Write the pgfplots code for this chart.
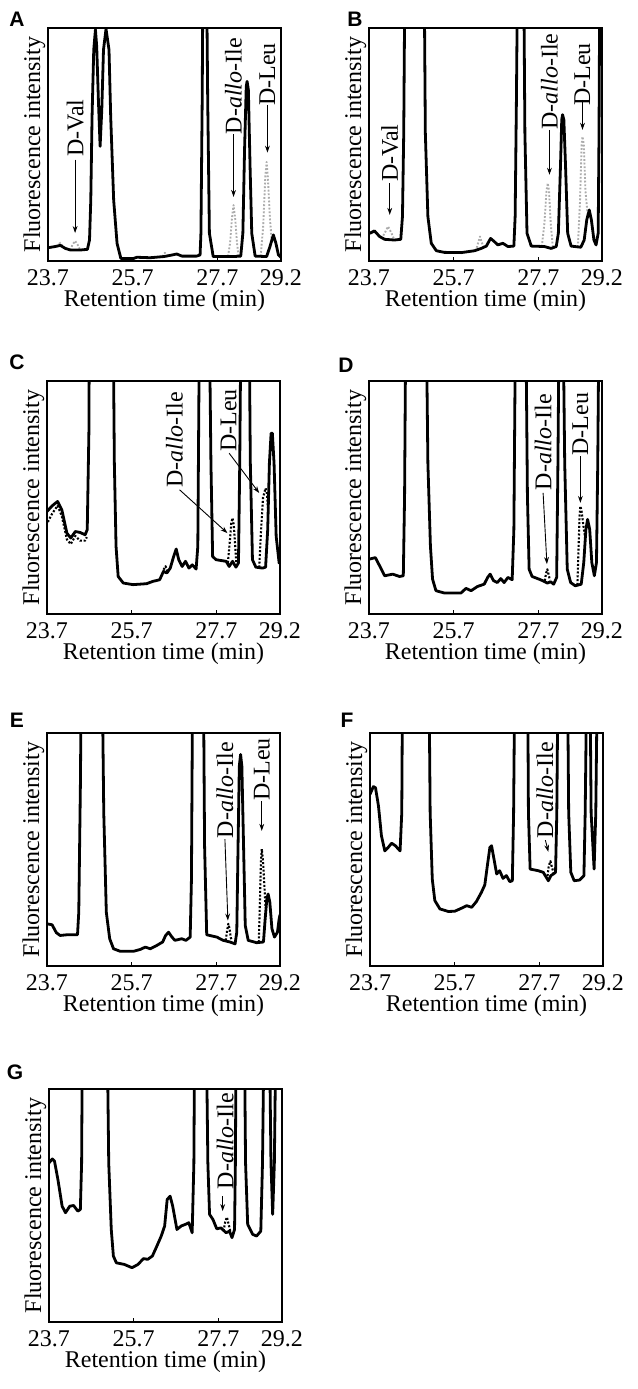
\documentclass[border=0pt]{standalone}
\usepackage{pgfplots}
\pgfplotsset{compat=1.18}
\usepackage{fontspec}
\setmainfont{Liberation Serif}
\newfontfamily\panelfont{Liberation Sans}
\usetikzlibrary{arrows.meta}
\newcommand{\fs}{\fontsize{12}{14}\selectfont}
\pgfplotsset{chrom/.style={
  scale only axis, width=116.5pt, height=116.5pt, anchor=north west,
  xmin=23.7, xmax=29.2, ymin=0, ymax=100,
  xtick={23.7,25.7,27.7,29.2}, xticklabels={23.7,25.7,27.7,29.2},
  ytick=\empty, xtick pos=left, tick align=inside, major tick length=2pt,
  axis line style={line width=0.85pt}, every tick/.style={black, line width=0.6pt},
  xlabel={Retention time (min)}, ylabel={Fluorescence intensity},
  ylabel style={at={(axis description cs:0,0.5)}, anchor=south, inner sep=1.2pt},
  xticklabel style={inner sep=1pt, yshift=-3pt},
  xlabel style={inner sep=1pt, yshift=0pt},
  tick label style={font=\fs}, label style={font=\fs},
}}
\tikzset{
  ann/.style={font=\fs, rotate=90, inner sep=0pt},
  arr/.style={line width=0.45pt, -{Stealth[length=3.5pt,width=2.4pt]}},
  sol/.style={black, line width=1.4pt, line join=round},
  dotg/.style={gray!65, line width=0.95pt, dash pattern=on 0.9pt off 0.9pt, line join=round},
  dotk/.style={black, line width=1.05pt, dash pattern=on 1pt off 0.9pt, line join=round},
  plab/.style={font=\panelfont\bfseries\fontsize{10.5}{11}\selectfont, inner sep=0pt},
}
\begin{document}
\begin{tikzpicture}
\useasboundingbox (0,0) rectangle (319pt,694.5pt);
% ---------------- A
\node[plab] at (8.5pt,685pt) {A};
\begin{axis}[chrom, at={(24pt,680.5pt)}]
\addplot[dotg] coordinates {(23.90,6.2)(23.99,7.8)(24.08,5.6)};
\addplot[dotg] coordinates {(24.22,4.7)(24.28,7)(24.34,8.6)(24.40,7)(24.46,4.7)};
\addplot[dotg] coordinates {(26.40,1.9)(26.46,3.5)(26.52,2.1)};
\addplot[dotg] coordinates {(27.95,2.0)(28.00,8)(28.04,18)(28.08,24)(28.12,18)(28.16,8)(28.20,2.0)};
\addplot[dotg] coordinates {(28.72,2)(28.78,15)(28.83,36)(28.86,42.5)(28.89,36)(28.94,18)(28.98,9)};
\addplot[sol] coordinates {(23.70,5.7)(23.87,6.2)(23.99,6.7)(24.11,5.4)(24.23,4.7)(24.46,4.7)(24.63,5.0)(24.68,9.0)(24.71,26.2)(24.74,62)(24.78,90.7)(24.82,99.3)(24.85,92)(24.89,69)(24.93,49.2)(24.97,65)(25.01,90.7)(25.07,99.6)(25.14,90.7)(25.18,62)(25.25,26.2)(25.33,7.6)(25.42,1.1)(25.72,1.1)(25.80,1.6)(26.11,1.4)(26.43,1.9)(26.50,2.1)(26.74,3.0)(26.86,2.1)(27.21,2.1)(27.29,2.6)(27.31,11.9)(27.34,69)(27.36,130)(27.44,130)(27.47,69)(27.51,11.9)(27.60,1.9)(28.08,1.9)(28.25,2.1)(28.30,11.9)(28.34,47.7)(28.38,75)(28.40,77.1)(28.43,73.5)(28.47,40.6)(28.51,11.9)(28.59,2.1)(28.86,1.9)(28.94,6.2)(29.02,11.2)(29.08,7.6)(29.14,2.6)(29.20,1.6)};
\node[ann] at (axis cs:24.34,57) {D-Val};
\draw[arr] (axis cs:24.34,43.5) -- (axis cs:24.34,12);
\node[ann] at (axis cs:28.08,75) {D-\textit{allo}-Ile};
\draw[arr] (axis cs:28.08,54.5) -- (axis cs:28.08,27.5);
\node[ann] at (axis cs:28.88,80) {D-Leu};
\draw[arr] (axis cs:28.88,67) -- (axis cs:28.88,46.5);
\end{axis}
% ---------------- B
\node[plab] at (177.5pt,685pt) {B};
\begin{axis}[chrom, at={(184.5pt,680.5pt)}]
\addplot[dotg] coordinates {(24.00,9.5)(24.07,12)(24.15,14.8)(24.23,12)(24.30,9.0)};
\addplot[dotg] coordinates {(26.22,4.2)(26.28,8)(26.32,10.5)(26.36,8)(26.42,5.5)};
\addplot[dotg] coordinates {(27.78,6.2)(27.84,16)(27.89,30)(27.92,33.4)(27.95,30)(27.99,16)(28.04,6)};
\addplot[dotg] coordinates {(28.63,6)(28.68,25)(28.72,50)(28.74,53.4)(28.77,50)(28.81,30)(28.86,20)};
\addplot[sol] coordinates {(23.72,11.9)(23.83,12.9)(23.95,10.5)(24.07,9.3)(24.30,9.0)(24.45,9.3)(24.49,19.1)(24.52,55)(24.55,130)(25.00,130)(25.03,55)(25.09,19.1)(25.17,7.6)(25.29,4.4)(25.48,3.7)(25.88,3.6)(26.19,4.4)(26.35,5.4)(26.47,6.4)(26.57,9.7)(26.66,8.3)(26.74,6.9)(26.86,7.6)(26.98,6.2)(27.12,6.4)(27.15,19.1)(27.18,69)(27.21,130)(27.35,130)(27.38,55)(27.43,11.9)(27.53,6.4)(27.84,6.2)(28.00,5.4)(28.12,6.2)(28.17,11.9)(28.22,40.6)(28.25,60.6)(28.27,62.8)(28.30,60.6)(28.34,40.6)(28.39,11.9)(28.47,6.4)(28.70,5.9)(28.78,9.0)(28.84,17.6)(28.90,21.9)(28.95,17.6)(29.01,9.0)(29.06,6.9)(29.11,11.9)(29.13,55)(29.15,130)(29.2,130)};
\node[ann] at (axis cs:24.19,46.3) {D-Val};
\draw[arr] (axis cs:24.19,33.4) -- (axis cs:24.19,19.8);
\node[ann] at (axis cs:27.96,77.1) {D-\textit{allo}-Ile};
\draw[arr] (axis cs:27.96,56.3) -- (axis cs:27.96,37);
\node[ann] at (axis cs:28.74,80) {D-Leu};
\draw[arr] (axis cs:28.74,69.2) -- (axis cs:28.74,56.3);
\end{axis}
% ---------------- C
\node[plab] at (8.5pt,513.5pt) {C};
\begin{axis}[chrom, at={(23.5pt,504pt)}]
\addplot[dotk] coordinates {(23.72,39.5)(23.82,43)(23.95,46.5)(24.05,42)(24.17,32)(24.26,30)(24.37,33.5)(24.48,31.5)(24.60,31.5)(24.64,33)};
\addplot[dotk] coordinates {(26.45,19)(26.50,20.5)(26.55,17.8)};
\addplot[dotk] coordinates {(27.97,22)(28.02,32)(28.05,39)(28.08,41.2)(28.11,38)(28.14,30)(28.17,22)};
\addplot[dotk] coordinates {(28.71,20)(28.75,35)(28.80,50)(28.86,54)(28.89,52)(28.92,45)};
\addplot[sol] coordinates {(23.70,44.0)(23.82,46.4)(23.95,48.3)(24.05,44.7)(24.17,34.7)(24.26,32.6)(24.37,35.4)(24.48,35.0)(24.60,34.0)(24.65,36.2)(24.69,79)(24.70,130)(25.26,130)(25.29,64.7)(25.33,29)(25.38,16.1)(25.50,13.3)(25.73,12.6)(26.05,13.0)(26.20,14.0)(26.36,14.7)(26.45,18.3)(26.53,17.6)(26.61,19.7)(26.69,24.7)(26.75,27.9)(26.81,23.3)(26.89,20.4)(26.97,22.6)(27.05,19.7)(27.13,21.1)(27.22,19.3)(27.26,29)(27.28,79)(27.30,130)(27.53,130)(27.57,64.7)(27.61,24.7)(27.69,23.3)(27.93,22.6)(28.00,20.4)(28.08,22.6)(28.16,20.1)(28.22,21.9)(28.25,64.7)(28.28,130)(28.47,130)(28.50,64.7)(28.55,23.3)(28.63,20.1)(28.79,19.7)(28.86,20.1)(28.91,36.2)(28.95,64.7)(28.99,77.6)(29.02,77.6)(29.06,64.7)(29.11,33.3)(29.18,21.9)(29.2,22)};
\node[ann] at (axis cs:26.71,74.7) {D-\textit{allo}-Ile};
\draw[arr] (axis cs:26.83,53.3) -- (axis cs:27.96,34.7);
\node[ann] at (axis cs:27.99,83) {D-Leu};
\draw[arr] (axis cs:28.0,69) -- (axis cs:28.71,51.9);
\end{axis}
% ---------------- D
\node[plab] at (173pt,512pt) {D};
\begin{axis}[chrom, at={(184.5pt,504pt)}]
\addplot[dotk] coordinates {(27.85,14.3)(27.88,17.5)(27.91,19.2)(27.94,17)(27.97,14.5)};
\addplot[dotk] coordinates {(28.62,12.5)(28.65,30)(28.67,42)(28.69,46.3)(28.72,44)(28.76,38)(28.80,33)};
\addplot[sol] coordinates {(23.70,23.5)(23.85,24.2)(23.95,20.7)(24.07,16.4)(24.26,17.1)(24.42,16.1)(24.51,16.4)(24.54,50.6)(24.57,130)(25.05,130)(25.09,64.8)(25.15,29.2)(25.20,15)(25.28,10)(25.48,9.0)(25.87,9.0)(25.99,11.0)(26.11,10)(26.26,11.8)(26.42,12.8)(26.50,15.7)(26.56,17.1)(26.64,14.3)(26.73,13.5)(26.81,15.2)(26.89,13.5)(26.98,15.7)(27.08,14.7)(27.12,36.3)(27.16,130)(27.40,130)(27.44,50.6)(27.48,19.2)(27.55,16.1)(27.75,14.7)(27.91,13.3)(27.99,13.8)(28.06,12.8)(28.13,15.7)(28.16,64.8)(28.19,130)(28.28,130)(28.32,64.8)(28.38,19.2)(28.46,13.5)(28.57,12.1)(28.71,12.8)(28.77,22.1)(28.82,36.3)(28.86,40.6)(28.91,36.3)(28.96,22.1)(29.02,16.4)(29.07,22.1)(29.10,64.8)(29.13,130)(29.2,130)};
\node[ann] at (axis cs:27.81,73.8) {D-\textit{allo}-Ile};
\draw[arr] (axis cs:27.81,52) -- (axis cs:27.90,21.4);
\node[ann] at (axis cs:28.69,81.5) {D-Leu};
\draw[arr] (axis cs:28.69,67.7) -- (axis cs:28.69,47.7);
\end{axis}
% ---------------- E
\node[plab] at (8.5pt,334.5pt) {E};
\begin{axis}[chrom, at={(23.5pt,328pt)}]
\addplot[dotk] coordinates {(27.92,11)(27.95,15)(27.98,18.1)(28.01,16)(28.04,12)(28.08,11)};
\addplot[dotk] coordinates {(28.70,10.2)(28.73,30)(28.75,45)(28.77,50.2)(28.80,45)(28.83,35)(28.86,25)};
\addplot[sol] coordinates {(23.70,18.1)(23.82,17.7)(23.92,14.3)(24.01,13.1)(24.17,13.4)(24.42,13.4)(24.45,23.1)(24.49,80)(24.51,130)(25.00,130)(25.04,65.8)(25.10,23.1)(25.18,11.7)(25.27,7.4)(25.43,6.3)(25.74,6.3)(25.90,7.1)(26.02,8.1)(26.14,7.4)(26.29,8.8)(26.43,10.3)(26.50,13.1)(26.57,14.5)(26.65,12.4)(26.72,11.0)(26.88,11.7)(26.98,11.0)(27.08,12.4)(27.11,37.3)(27.14,130)(27.39,130)(27.42,51.6)(27.47,13.4)(27.71,12.4)(27.86,11.0)(28.02,10.3)(28.14,9.5)(28.18,14.5)(28.21,51.6)(28.24,85.8)(28.27,90.8)(28.30,85.8)(28.34,51.6)(28.38,17.4)(28.45,11.0)(28.65,10.0)(28.81,10.3)(28.85,20.2)(28.89,28.8)(28.92,30.9)(28.96,27.4)(29.01,16.0)(29.07,12.4)(29.14,14.5)(29.18,20.2)(29.2,22)};
\node[ann] at (axis cs:27.90,75.5) {D-\textit{allo}-Ile};
\draw[arr] (axis cs:27.90,54.4) -- (axis cs:27.97,19.5);
\node[ann] at (axis cs:28.77,84.4) {D-Leu};
\draw[arr] (axis cs:28.77,70.8) -- (axis cs:28.77,58);
\end{axis}
% ---------------- F
\node[plab] at (173.5pt,334.5pt) {F};
\begin{axis}[chrom, at={(185pt,328pt)}]
\addplot[dotk] coordinates {(27.88,37)(27.92,43)(27.96,45)(28.00,42)(28.04,39.5)};
\addplot[sol] coordinates {(23.70,73.7)(23.78,77)(23.83,76.5)(23.90,68.7)(23.97,55.9)(24.05,49.4)(24.13,50.9)(24.21,52.7)(24.30,51.6)(24.41,49.4)(24.45,65.8)(24.47,130)(25.09,130)(25.12,65.8)(25.17,37.3)(25.23,28.1)(25.35,24.5)(25.55,23.4)(25.70,23.5)(25.86,24.8)(25.98,25.9)(26.10,25.2)(26.21,27.6)(26.33,31.6)(26.41,34.8)(26.47,43.0)(26.53,50.9)(26.57,51.6)(26.62,46.6)(26.69,39.5)(26.76,40.9)(26.84,37.6)(26.92,38.8)(27.00,36.2)(27.06,36.6)(27.09,65.8)(27.12,130)(27.42,130)(27.44,65.8)(27.48,41.6)(27.67,40.9)(27.79,40.2)(27.91,36.6)(27.97,38.8)(28.03,39.5)(28.08,40.2)(28.11,65.8)(28.14,130)(28.36,130)(28.39,65.8)(28.44,40.2)(28.52,36.6)(28.65,36.9)(28.75,38.8)(28.78,65.8)(28.82,130)(28.89,130)(28.92,65.8)(28.99,41.6)(29.03,65.8)(29.07,130)(29.2,130)};
\node[ann] at (axis cs:27.83,75.5) {D-\textit{allo}-Ile};
\draw[arr] (axis cs:27.84,54) -- (axis cs:27.91,49);
\end{axis}
% ---------------- G
\node[plab] at (7.5pt,158.5pt) {G};
\begin{axis}[chrom, at={(24.5pt,150pt)}]
\addplot[dotk] coordinates {(27.82,39)(27.86,43)(27.90,45)(27.94,42)(27.98,39)};
\addplot[sol] coordinates {(23.70,68.3)(23.78,70.0)(23.83,69.0)(23.91,61.2)(24.01,49.7)(24.09,46.9)(24.19,49.7)(24.28,50.0)(24.38,47.6)(24.44,48.3)(24.47,68.3)(24.49,130)(25.07,130)(25.11,68.3)(25.17,39.7)(25.22,28.3)(25.29,25.4)(25.48,24.7)(25.66,23.3)(25.80,24.7)(25.93,27.2)(26.03,26.9)(26.14,28.3)(26.23,31.9)(26.35,36.9)(26.43,41.2)(26.49,52.6)(26.56,54.0)(26.62,49.7)(26.72,39.7)(26.82,41.2)(26.92,41.9)(27.00,42.6)(27.08,38.3)(27.12,68.3)(27.14,130)(27.41,130)(27.45,68.3)(27.49,46.2)(27.57,44.0)(27.66,40.0)(27.76,40.4)(27.88,38.3)(27.96,39.0)(28.02,36.2)(28.08,39.7)(28.10,68.3)(28.12,130)(28.31,130)(28.34,68.3)(28.39,41.9)(28.51,37.6)(28.60,36.9)(28.70,39.0)(28.74,68.3)(28.78,130)(28.90,130)(28.94,68.3)(28.98,46.2)(29.02,68.3)(29.06,130)(29.2,130)};
\node[ann] at (axis cs:27.86,77.6) {D-\textit{allo}-Ile};
\draw[arr] (axis cs:27.80,54) -- (axis cs:27.80,47.6);
\end{axis}
\end{tikzpicture}
\end{document}
